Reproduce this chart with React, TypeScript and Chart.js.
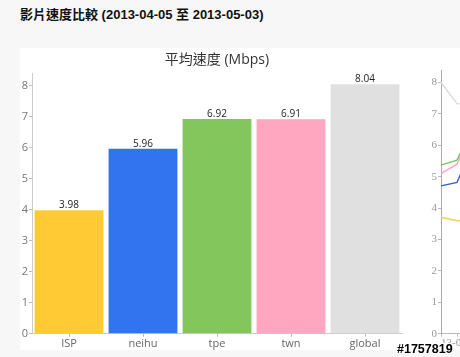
import React, { useEffect, useRef } from "react";
import { Chart, registerables } from "chart.js";

Chart.register(...registerables);

// ---- data: average speed bar chart ----
const chartTitle = "平均速度 (Mbps)";
const categories = ["ISP", "neihu", "tpe", "twn", "global"];
const avgSpeed = [3.98, 5.96, 6.92, 6.91, 8.04];
const barColors = ["#ffca33", "#3274ef", "#82c65c", "#ffa6c1", "#e0e0e0"];
const yTickValues = [0, 1, 2, 3, 4, 5, 6, 7, 8];
const yMax = 8.4;

// ---- data: trend line chart (only its left edge is visible) ----
const trendDates = ["13-04-05", "13-04-12", "13-04-19"];
const trendGlobal = [8.0, 7.33, 7.3];
const trendTpe = [5.37, 5.53, 6.6];
const trendTwn = [5.1, 5.4, 6.6];
const trendNeihu = [4.71, 4.82, 6.0];
const trendISP = [3.71, 3.6, 3.62];
const lineColors = ["#dddddd", "#82c65c", "#ffa6c1", "#2f62d6", "#f2cf55"];

const pageTitle = "影片速度比較 (2013-04-05 至 2013-05-03)";
const watermark = "#1757819";

const SANS = '"Open Sans", "Noto Sans CJK TC", sans-serif';
const SERIF = '"Liberation Serif", "DejaVu Serif", serif';

const setYTicks = (s: any) => {
  s.ticks = yTickValues.map((v) => ({ value: v }));
};

const valueLabels = {
  id: "valueLabels",
  afterDatasetsDraw(chart: any) {
    const ctx = chart.ctx;
    const meta = chart.getDatasetMeta(0);
    const data = chart.data.datasets[0].data as number[];
    ctx.save();
    ctx.font = `10px ${SANS}`;
    ctx.fillStyle = "#222";
    ctx.textAlign = "center";
    ctx.textBaseline = "alphabetic";
    meta.data.forEach((bar: any, i: number) => {
      ctx.fillText(data[i].toFixed(2), bar.x, bar.y - 2);
    });
    // chart title centred over the plot area
    const a = chart.chartArea;
    ctx.font = `14px ${SANS}`;
    ctx.fillStyle = "#333";
    ctx.textBaseline = "middle";
    ctx.fillText(chartTitle, (a.left + a.right) / 2, 12);
    ctx.restore();
  },
};

function BarChart() {
  const ref = useRef<HTMLCanvasElement>(null);
  useEffect(() => {
    const chart = new Chart(ref.current!, {
      type: "bar",
      data: {
        labels: categories,
        datasets: [
          {
            data: avgSpeed,
            backgroundColor: barColors,
            borderWidth: 0,
            barPercentage: 0.93,
            categoryPercentage: 1,
          },
        ],
      },
      plugins: [valueLabels],
      options: {
        animation: false,
        responsive: false,
        maintainAspectRatio: false,
        layout: { padding: { left: 0, right: 13, top: 25, bottom: 0 } },
        plugins: {
          legend: { display: false },
          tooltip: { enabled: false },
          title: { display: false },
        },
        scales: {
          x: {
            offset: true,
            afterFit: (s: any) => {
              s.paddingLeft = 0;
              s.paddingRight = 0;
            },
            grid: {
              offset: false,
              drawOnChartArea: false,
              drawTicks: true,
              tickLength: 3,
              color: "#bbb",
            },
            border: { display: true, color: "#ccc" },
            ticks: {
              color: "#666",
              padding: 0,
              font: { family: SANS, size: 11 },
              maxRotation: 0,
            },
          },
          y: {
            min: 0,
            max: yMax,
            afterBuildTicks: setYTicks,
            afterFit: (s: any) => {
              s.width = 12;
              s.paddingTop = 0;
              s.paddingBottom = 0;
            },
            grid: {
              drawOnChartArea: false,
              drawTicks: true,
              tickLength: 3,
              color: "#bbb",
            },
            border: { display: true, color: "#ccc" },
            ticks: {
              color: "#777",
              padding: 1,
              font: { family: SANS, size: 11 },
              callback: (v: any) => String(Math.round(Number(v))),
            },
          },
        },
      },
    });
    return () => chart.destroy();
  }, []);
  return (
    <canvas
      ref={ref}
      width={395}
      height={302}
      style={{ position: "absolute", left: 20, top: 48, width: 395, height: 302 }}
    />
  );
}

function LineChart() {
  const ref = useRef<HTMLCanvasElement>(null);
  useEffect(() => {
    const series = [trendGlobal, trendTpe, trendTwn, trendNeihu, trendISP];
    const chart = new Chart(ref.current!, {
      type: "line",
      data: {
        labels: trendDates,
        datasets: series.map((d, i) => ({
          data: d,
          borderColor: lineColors[i],
          borderWidth: 1.5,
          pointRadius: 0,
          fill: false,
          tension: 0,
        })),
      },
      options: {
        animation: false,
        responsive: false,
        maintainAspectRatio: false,
        layout: { padding: { left: 0, right: 8, top: 22, bottom: 0 } },
        plugins: {
          legend: { display: false },
          tooltip: { enabled: false },
          title: { display: false },
        },
        scales: {
          x: {
            offset: false,
            afterFit: (s: any) => {
              s.paddingLeft = 0;
              s.paddingRight = 0;
            },
            grid: { drawOnChartArea: false, drawTicks: true, tickLength: 3, color: "#bbb" },
            border: { display: true, color: "#bbb" },
            ticks: {
              color: "#999",
              padding: 0,
              align: "start",
              autoSkip: false,
              maxRotation: 0,
              minRotation: 0,
              font: { family: SERIF, size: 11 },
              callback: (_v: any, i: number) => (i === 0 ? trendDates[0] : ""),
            },
          },
          y: {
            min: 0,
            max: yMax,
            afterBuildTicks: setYTicks,
            afterFit: (s: any) => {
              s.width = 21;
              s.paddingTop = 0;
              s.paddingBottom = 0;
            },
            grid: { drawOnChartArea: false, drawTicks: true, tickLength: 3, color: "#bbb" },
            border: { display: true, color: "#aaa" },
            ticks: {
              color: "#999",
              padding: 1,
              font: { family: SERIF, size: 11 },
              callback: (v: any) => String(Math.round(Number(v))),
            },
          },
        },
      },
    });
    return () => chart.destroy();
  }, []);
  return (
    <canvas
      ref={ref}
      width={61}
      height={302}
      style={{ position: "absolute", left: 420, top: 48, width: 61, height: 302 }}
    />
  );
}

export default function App() {
  return (
    <div
      style={{
        position: "fixed",
        left: 0,
        top: 0,
        width: 460,
        height: 357,
        overflow: "hidden",
        background: "#f7f7f7",
      }}
    >
      <div
        style={{
          position: "absolute",
          left: 20,
          top: 7,
          lineHeight: "16px",
          fontSize: 13,
          fontWeight: "bold",
          color: "#111",
          whiteSpace: "nowrap",
          fontFamily: '"Liberation Sans", "Noto Sans CJK TC", sans-serif',
        }}
      >
        {pageTitle}
      </div>
      <div
        style={{
          position: "absolute",
          left: 20,
          top: 48,
          width: 440,
          height: 302,
          background: "#ffffff",
        }}
      />
      <BarChart />
      <LineChart />
      <div
        style={{
          position: "absolute",
          left: 397,
          top: 342,
          fontSize: 12.5,
          lineHeight: "15px",
          fontWeight: "bold",
          color: "#000",
          fontFamily: '"Liberation Sans", sans-serif',
          textShadow:
            "1px 0 0 #fff, -1px 0 0 #fff, 0 1px 0 #fff, 0 -1px 0 #fff, 1px 1px 0 #fff, -1px -1px 0 #fff, 1px -1px 0 #fff, -1px 1px 0 #fff",
        }}
      >
        {watermark}
      </div>
    </div>
  );
}
